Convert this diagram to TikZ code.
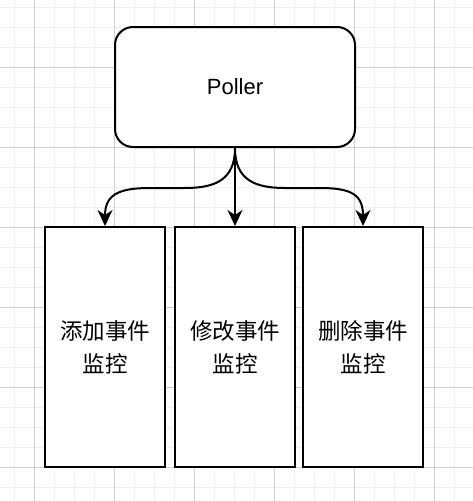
\documentclass[tikz,border=0pt]{standalone}
\usepackage{fontspec}
\setmainfont{Liberation Sans}
\newfontfamily\cjk{Noto Sans CJK SC}
\usetikzlibrary{arrows.meta}
\definecolor{gridminor}{HTML}{F0F0F0}
\definecolor{gridmajor}{HTML}{D0D0D0}
\begin{document}
\begin{tikzpicture}[x=1pt,y=-1pt,
  minorline/.style={draw=gridminor,line width=1pt},
  majorline/.style={draw=gridmajor,line width=1pt},
  pbox/.style={draw=black,line width=2pt,fill=white,rounded corners=18pt,
    minimum width=240pt,minimum height=120pt,inner sep=0pt,
    font=\fontsize{22}{30}\selectfont},
  ebox/.style={draw=black,line width=2pt,fill=white,
    minimum width=120pt,minimum height=240pt,inner sep=0pt,align=center,
    font=\cjk\fontsize{22.5}{33}\selectfont},
  conn/.style={draw=black,line width=2pt,-{Stealth[length=16pt,width=15pt,inset=5pt]}}
]
\useasboundingbox (0,0) rectangle (473,501);
\fill[white] (0,0) rectangle (473,501);
\foreach \x in {14,34,...,454} \draw[minorline] (\x,0) -- (\x,501);
\foreach \y in {7,27,...,487} \draw[minorline] (0,\y) -- (473,\y);
\foreach \x in {34,114,...,434} \draw[majorline] (\x,0) -- (\x,501);
\foreach \y in {67,147,...,467} \draw[majorline] (0,\y) -- (473,\y);

\node[pbox] (P) at (235,87) {Poller};
\node[ebox] (A) at (105,347) {添加事件\\监控};
\node[ebox] (B) at (235,347) {修改事件\\监控};
\node[ebox] (C) at (363,347) {删除事件\\监控};

\draw[conn] (P.south) .. controls (235,180) and (215,188) .. (185,188)
  -- (150,188) .. controls (118,188) and (105,195) .. (A.north);
\draw[conn] (P.south) -- (B.north);
\draw[conn] (P.south) .. controls (235,180) and (255,188) .. (285,188)
  -- (320,188) .. controls (352,188) and (363,195) .. (C.north);
\end{tikzpicture}
\end{document}
